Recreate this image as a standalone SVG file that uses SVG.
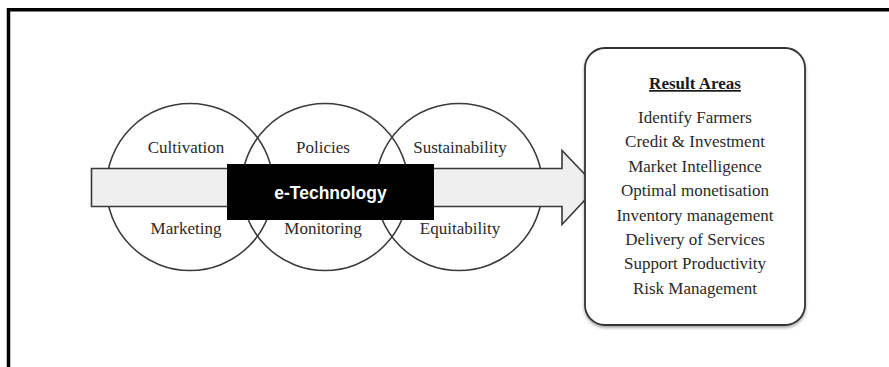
<svg xmlns="http://www.w3.org/2000/svg" width="889" height="367" viewBox="0 0 889 367">
<defs>
<style>
.circ{fill:none;stroke:#3a3a3a;stroke-width:1.6}
.lbl{font-family:"Liberation Serif","Times New Roman",serif;font-size:17px;fill:#2a2a2a;text-anchor:middle}
.res{font-family:"Liberation Serif","Times New Roman",serif;font-size:17px;fill:#2a2a2a;text-anchor:middle}
.ttl{font-family:"Liberation Serif","Times New Roman",serif;font-size:17px;font-weight:bold;fill:#1a1a1a;text-anchor:middle;text-decoration:underline}
</style>
<filter id="sh" x="-10%" y="-10%" width="120%" height="120%">
<feDropShadow dx="0" dy="2" stdDeviation="1.5" flood-color="#000" flood-opacity="0.35"/>
</filter>
</defs>
<rect width="889" height="367" fill="#ffffff"/>
<path d="M8.5,367 V9.7 H889" fill="none" stroke="#000" stroke-width="3.5" stroke-linejoin="miter"/>

<g id="circle-1">
<circle class="circ" cx="190" cy="187" r="83.5"/>
<text class="lbl" x="186" y="153">Cultivation</text>
<text class="lbl" x="186" y="234">Marketing</text>
</g>
<g id="circle-2">
<circle class="circ" cx="325" cy="187" r="83.5"/>
<text class="lbl" x="323" y="153">Policies</text>
<text class="lbl" x="323" y="234">Monitoring</text>
</g>
<g id="circle-3">
<circle class="circ" cx="459" cy="187" r="83.5"/>
<text class="lbl" x="460" y="153">Sustainability</text>
<text class="lbl" x="460" y="234">Equitability</text>
</g>

<g id="connectors">
<path d="M91.5,168.5 H562 V150.5 L597,187 L562,224.5 V206.5 H91.5 Z" fill="#efefef" stroke="#3a3a3a" stroke-width="1.6" stroke-linejoin="miter"/>
</g>

<g id="e-technology">
<rect x="227" y="164" width="207" height="56" fill="#000"/>
<text x="330.5" y="198.5" font-family="'Liberation Sans',Arial,sans-serif" font-size="17.5" font-weight="bold" fill="#fff" text-anchor="middle">e-Technology</text>
</g>

<g id="result-areas">
<rect x="585" y="48" width="220" height="277" rx="20" ry="20" fill="#fff" stroke="#333" stroke-width="1.8" filter="url(#sh)"/>
<text class="ttl" x="695" y="89">Result Areas</text>
<text class="res" x="695" y="123">Identify Farmers</text>
<text class="res" x="695" y="147.4">Credit &amp; Investment</text>
<text class="res" x="695" y="171.8">Market Intelligence</text>
<text class="res" x="695" y="196.2">Optimal monetisation</text>
<text class="res" x="695" y="220.6">Inventory management</text>
<text class="res" x="695" y="245">Delivery of Services</text>
<text class="res" x="695" y="269.4">Support Productivity</text>
<text class="res" x="695" y="293.8">Risk Management</text>
</g>
</svg>
